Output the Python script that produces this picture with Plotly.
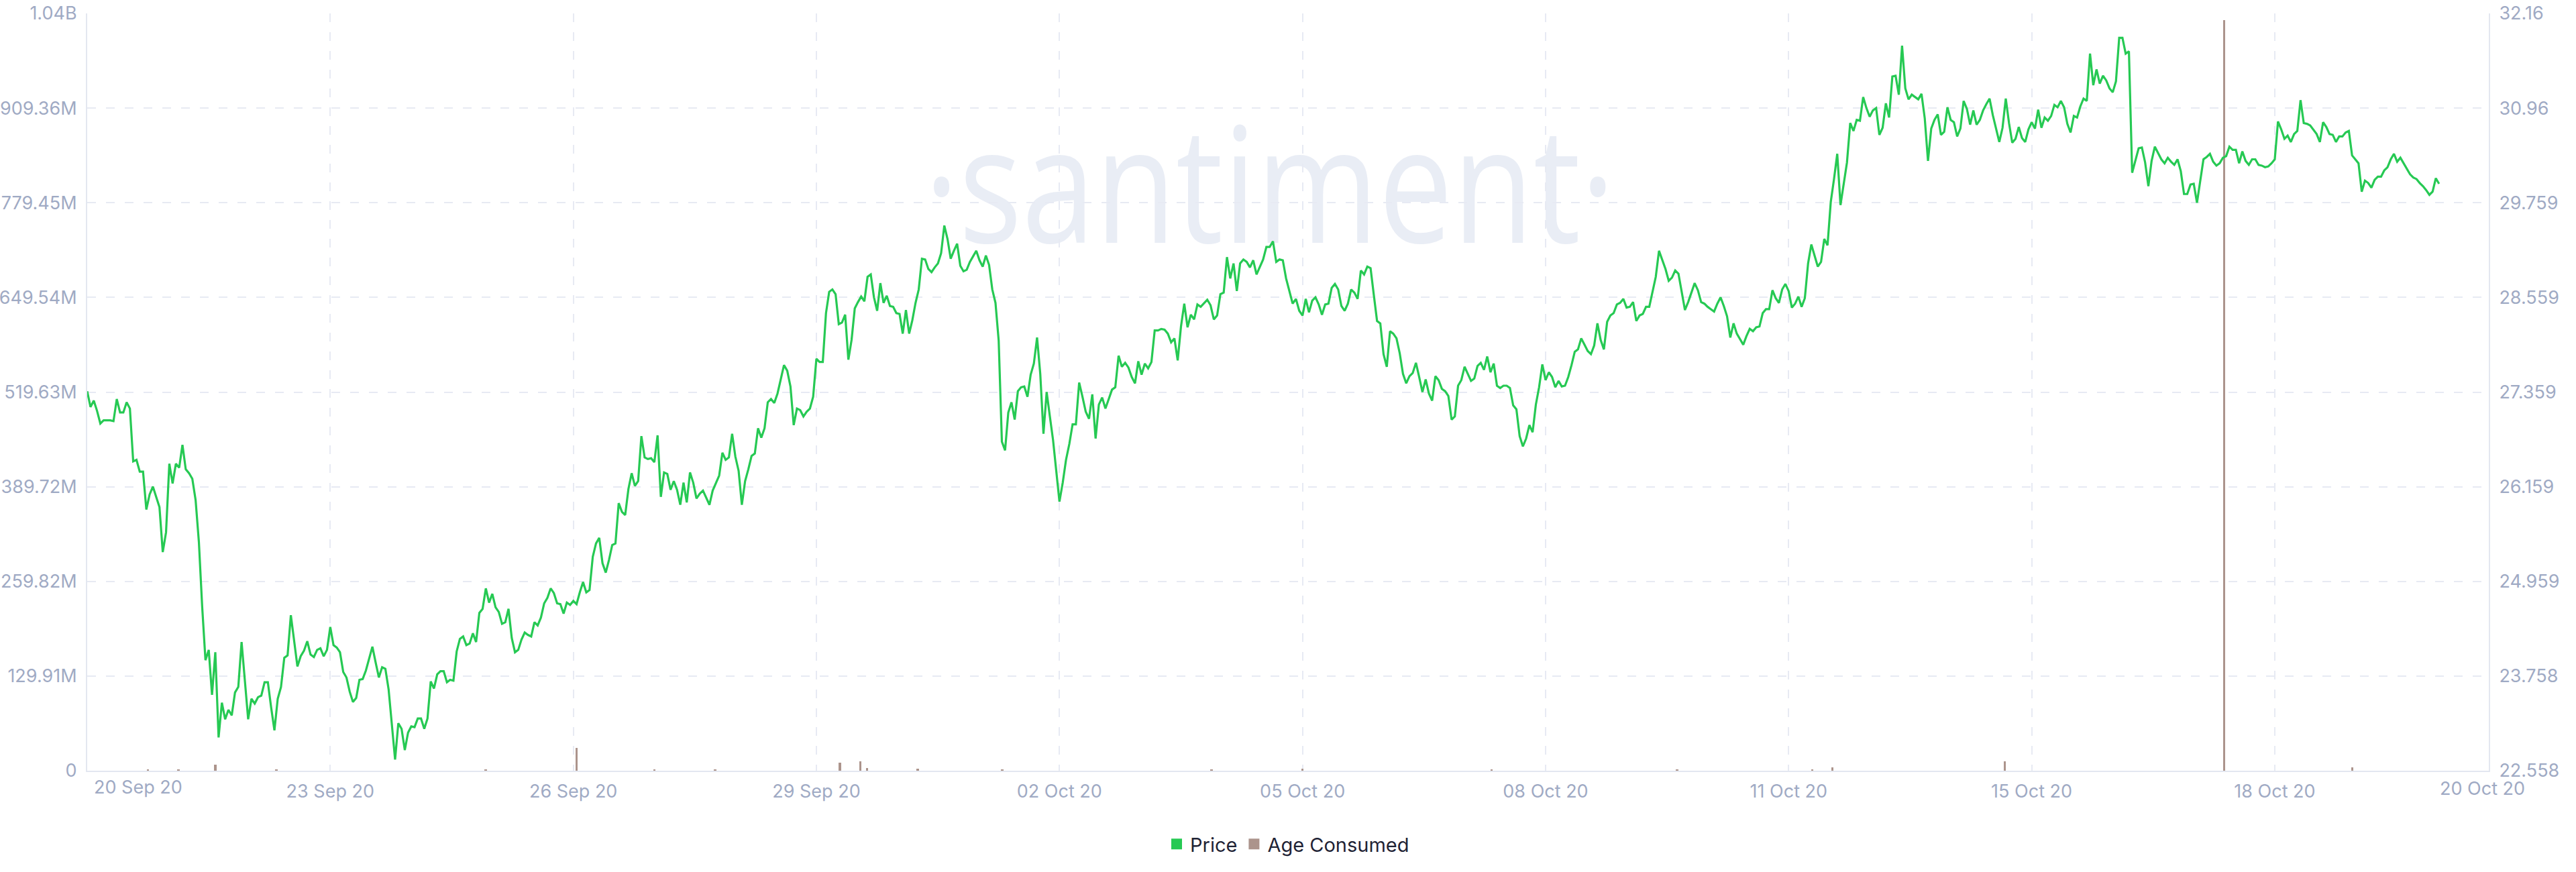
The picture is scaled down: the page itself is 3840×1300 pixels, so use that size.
import pandas as pd
import plotly.graph_objects as go

# Price (right axis), one list per span between the x gridlines.
# The feed has no data for 14 Oct, which the chart skips (index based x axis).
BLOCK_STARTS = ["2020-09-20 00:00", "2020-09-23 00:00", "2020-09-26 00:00", "2020-09-29 00:00",
                "2020-10-02 00:00", "2020-10-05 00:00", "2020-10-08 00:00", "2020-10-11 00:00",
                "2020-10-15 00:00", "2020-10-18 00:00"]
BLOCK_ENDS = ["2020-09-23 00:00", "2020-09-26 00:00", "2020-09-29 00:00", "2020-10-02 00:00",
              "2020-10-05 00:00", "2020-10-08 00:00", "2020-10-11 00:00", "2020-10-14 00:00",
              "2020-10-18 00:00", "2020-10-20 00:40"]

PRICE_BLOCKS = [
    [27.37, 27.17, 27.25, 27.12, 26.96, 27.00, 27.00, 27.00, 26.99, 27.27, 27.10, 27.10, 27.23, 27.15,
     26.48, 26.50, 26.35, 26.35, 25.87, 26.06, 26.16, 26.04, 25.90, 25.33, 25.58, 26.45, 26.20, 26.45,
     26.40, 26.69, 26.38, 26.33, 26.26, 25.99, 25.46, 24.64, 23.96, 24.09, 23.52, 24.06, 22.98, 23.42,
     23.21, 23.33, 23.26, 23.55, 23.62, 24.19, 23.70, 23.21, 23.47, 23.41, 23.49, 23.51, 23.68, 23.68,
     23.36, 23.07, 23.47, 23.62, 23.99, 24.02, 24.53, 24.19, 23.88, 24.01, 24.08, 24.20, 24.03, 24.00,
     24.09, 24.11, 24.01, 24.09],
    [24.38, 24.15, 24.12, 24.06, 23.81, 23.74, 23.56, 23.43, 23.48, 23.71, 23.72, 23.83, 23.99, 24.13,
     23.93, 23.74, 23.87, 23.85, 23.59, 23.13, 22.70, 23.16, 23.09, 22.82, 23.04, 23.12, 23.11, 23.22,
     23.22, 23.09, 23.22, 23.69, 23.60, 23.78, 23.82, 23.82, 23.68, 23.71, 23.70, 24.07, 24.23, 24.26,
     24.15, 24.17, 24.30, 24.19, 24.56, 24.61, 24.87, 24.69, 24.80, 24.63, 24.57, 24.42, 24.44, 24.61,
     24.24, 24.06, 24.09, 24.22, 24.31, 24.28, 24.26, 24.44, 24.40, 24.50, 24.68, 24.75, 24.87, 24.81,
     24.68, 24.67, 24.55, 24.69, 24.66],
    [24.71, 24.67, 24.82, 24.95, 24.82, 24.85, 25.27, 25.44, 25.51, 25.19, 25.07, 25.23, 25.42, 25.44,
     25.95, 25.84, 25.80, 26.13, 26.33, 26.17, 26.23, 26.80, 26.53, 26.51, 26.52, 26.47, 26.81, 26.03,
     26.34, 26.32, 26.12, 26.23, 26.12, 25.93, 26.21, 25.96, 26.34, 26.21, 26.01, 26.07, 26.11, 26.02,
     25.93, 26.11, 26.20, 26.30, 26.59, 26.50, 26.53, 26.83, 26.54, 26.36, 25.93, 26.23, 26.38, 26.55,
     26.58, 26.90, 26.78, 26.90, 27.23, 27.27, 27.22, 27.34, 27.52, 27.70, 27.63, 27.43, 26.94, 27.15,
     27.13, 27.05, 27.11, 27.15, 27.30],
    [27.78, 27.74, 27.74, 28.36, 28.63, 28.66, 28.60, 28.22, 28.24, 28.34, 27.77, 28.02, 28.42, 28.50,
     28.57, 28.51, 28.82, 28.85, 28.56, 28.39, 28.74, 28.49, 28.58, 28.45, 28.44, 28.36, 28.35, 28.10,
     28.40, 28.10, 28.27, 28.49, 28.66, 29.05, 29.04, 28.92, 28.88, 28.94, 28.99, 29.12, 29.47, 29.30,
     29.05, 29.15, 29.24, 28.96, 28.89, 28.91, 29.01, 29.08, 29.15, 29.03, 28.95, 29.09, 28.97, 28.66,
     28.49, 28.01, 26.73, 26.62, 27.10, 27.23, 27.01, 27.37, 27.42, 27.43, 27.30, 27.58, 27.72, 28.05,
     27.59, 26.83, 27.36, 27.05, 26.75, 26.36],
    [25.97, 26.21, 26.50, 26.70, 26.95, 26.95, 27.48, 27.30, 27.11, 27.02, 27.33, 26.77, 27.20, 27.29,
     27.15, 27.27, 27.39, 27.42, 27.82, 27.68, 27.73, 27.67, 27.55, 27.47, 27.75, 27.58, 27.72, 27.66,
     27.74, 28.14, 28.14, 28.16, 28.15, 28.10, 27.99, 28.04, 27.76, 28.19, 28.48, 28.18, 28.34, 28.28,
     28.47, 28.44, 28.49, 28.53, 28.46, 28.28, 28.33, 28.60, 28.62, 29.07, 28.80, 28.99, 28.64, 28.99,
     29.04, 29.01, 28.94, 29.03, 28.85, 28.94, 29.04, 29.20, 29.20, 29.27, 29.01, 29.04, 29.03, 28.80,
     28.65, 28.48, 28.54, 28.39],
    [28.33, 28.54, 28.37, 28.52, 28.56, 28.47, 28.34, 28.47, 28.48, 28.68, 28.73, 28.66, 28.45, 28.39,
     28.48, 28.66, 28.62, 28.54, 28.90, 28.85, 28.95, 28.93, 28.59, 28.26, 28.23, 27.84, 27.68, 28.13,
     28.10, 28.04, 27.85, 27.59, 27.47, 27.56, 27.60, 27.73, 27.55, 27.36, 27.52, 27.34, 27.25, 27.56,
     27.51, 27.40, 27.37, 27.31, 27.01, 27.05, 27.44, 27.51, 27.68, 27.59, 27.50, 27.53, 27.69, 27.73,
     27.64, 27.81, 27.61, 27.72, 27.44, 27.41, 27.44, 27.44, 27.41, 27.19, 27.14, 26.80, 26.67, 26.77,
     26.94, 26.85, 27.20, 27.42, 27.71],
    [27.51, 27.61, 27.55, 27.42, 27.50, 27.43, 27.44, 27.55, 27.70, 27.87, 27.90, 28.04, 27.96, 27.88,
     27.84, 27.95, 28.23, 28.02, 27.90, 28.25, 28.33, 28.36, 28.47, 28.49, 28.54, 28.43, 28.44, 28.50,
     28.26, 28.33, 28.35, 28.44, 28.44, 28.62, 28.82, 29.15, 29.04, 28.92, 28.77, 28.81, 28.90, 28.86,
     28.63, 28.40, 28.50, 28.62, 28.74, 28.65, 28.50, 28.48, 28.44, 28.41, 28.38, 28.48, 28.56, 28.45,
     28.32, 28.05, 28.23, 28.10, 28.03, 27.96, 28.07, 28.16, 28.13, 28.18, 28.19, 28.36, 28.41, 28.41,
     28.65, 28.55, 28.49, 28.66, 28.73],
    [28.64, 28.43, 28.48, 28.57, 28.44, 28.55, 28.99, 29.23, 29.10, 28.95, 29.01, 29.30, 29.22, 29.77,
     30.06, 30.38, 29.73, 29.98, 30.27, 30.77, 30.67, 30.81, 30.80, 31.10, 30.96, 30.85, 30.93, 30.96,
     30.62, 30.71, 31.02, 30.84, 31.36, 31.37, 31.13, 31.75, 31.21, 31.07, 31.13, 31.10, 31.07, 31.14,
     30.83, 30.29, 30.70, 30.81, 30.88, 30.62, 30.66, 30.97, 30.81, 30.78, 30.60, 30.70, 31.05, 30.95,
     30.75, 30.93, 30.75, 30.81, 30.93, 31.01, 31.08, 30.87, 30.71, 30.53, 30.71, 31.08, 30.77, 30.52,
     30.57, 30.72, 30.58, 30.53, 30.69],
    [30.78, 30.70, 30.94, 30.71, 30.84, 30.80, 30.86, 31.00, 30.97, 31.05, 30.97, 30.76, 30.65, 30.86,
     30.84, 30.98, 31.08, 31.05, 31.65, 31.25, 31.45, 31.27, 31.37, 31.31, 31.21, 31.16, 31.30, 31.85,
     31.85, 31.65, 31.68, 30.14, 30.29, 30.45, 30.46, 30.27, 29.97, 30.29, 30.47, 30.39, 30.31, 30.26,
     30.33, 30.28, 30.24, 30.31, 30.16, 29.87, 29.87, 29.99, 30.00, 29.76, 30.03, 30.31, 30.34, 30.38,
     30.28, 30.23, 30.26, 30.33, 30.35, 30.47, 30.43, 30.43, 30.26, 30.41, 30.29, 30.24, 30.31, 30.31,
     30.24, 30.23, 30.21, 30.22, 30.26],
    [30.31, 30.79, 30.69, 30.57, 30.61, 30.53, 30.63, 30.67, 31.06, 30.77, 30.76, 30.74, 30.69, 30.63,
     30.53, 30.78, 30.72, 30.63, 30.62, 30.53, 30.60, 30.60, 30.65, 30.67, 30.36, 30.31, 30.26, 29.90,
     30.04, 30.01, 29.95, 30.05, 30.09, 30.09, 30.17, 30.21, 30.31, 30.38, 30.28, 30.33, 30.26, 30.18,
     30.12, 30.08, 30.06, 30.01, 29.97, 29.92, 29.86, 29.90, 30.07, 30.00],
]

# Age Consumed (left axis), only the hours with a visible bar
AGE_TIMES = ["2020-09-20 18:00", "2020-09-21 03:00", "2020-09-21 14:00", "2020-09-22 08:00",
             "2020-09-24 22:00", "2020-09-26 01:00", "2020-09-27 00:00", "2020-09-27 18:00",
             "2020-09-29 07:00", "2020-09-29 13:00", "2020-09-29 15:00", "2020-09-30 06:00",
             "2020-10-01 07:00", "2020-10-03 21:00", "2020-10-05 00:00", "2020-10-07 08:00",
             "2020-10-09 15:00", "2020-10-11 07:00", "2020-10-11 13:00", "2020-10-13 16:00",
             "2020-10-17 09:00", "2020-10-18 23:00"]
AGE_VALUES = [1.0e6, 1.0e6, 8.0e6, 2.0e6, 1.8e6, 31e6, 2.0e6, 2.0e6, 11e6, 13e6, 4.0e6, 3.0e6,
              2.0e6, 2.0e6, 3.0e6, 2.0e6, 2.0e6, 2.0e6, 5.0e6, 13e6, 1030e6, 5.0e6]

LEFT_TICKS = [0, 129.91e6, 259.82e6, 389.72e6, 519.63e6, 649.54e6, 779.45e6, 909.36e6, 1039.27e6]
LEFT_LABELS = ["0", "129.91M", "259.82M", "389.72M", "519.63M", "649.54M", "779.45M", "909.36M", "1.04B"]
RIGHT_TICKS = [22.558, 23.758, 24.959, 26.159, 27.359, 28.559, 29.759, 30.96, 32.16]
RIGHT_LABELS = ["22.558", "23.758", "24.959", "26.159", "27.359", "28.559", "29.759", "30.96", "32.16"]
X_TICKS = ["2020-09-23", "2020-09-26", "2020-09-29", "2020-10-02", "2020-10-05",
           "2020-10-08", "2020-10-11", "2020-10-15", "2020-10-18"]
X_LABELS = ["23 Sep 20", "26 Sep 20", "29 Sep 20", "02 Oct 20", "05 Oct 20",
            "08 Oct 20", "11 Oct 20", "15 Oct 20", "18 Oct 20"]

GREEN = "#26c953"
BROWN = "#ac948c"
TICK_COLOR = "#9faac4"
GRID_COLOR = "#e7eaf3"
LINE_COLOR = "#e3e7f0"
FONT = "Inter, sans-serif"

# spread each block's points evenly between its gridlines
times, prices = [], []
for i, (start, end, block) in enumerate(zip(BLOCK_STARTS, BLOCK_ENDS, PRICE_BLOCKS)):
    last = i == len(PRICE_BLOCKS) - 1
    stamps = pd.date_range(start, end, periods=len(block) if last else len(block) + 1)
    times.extend(stamps[:len(block)])
    prices.extend(block)

fig = go.Figure()

fig.add_trace(go.Bar(
    x=pd.to_datetime(AGE_TIMES), y=AGE_VALUES, width=2.5e6,
    marker=dict(color=BROWN, line=dict(width=0)), showlegend=False, yaxis="y",
))
fig.add_trace(go.Scatter(
    x=times, y=prices, mode="lines", line=dict(color=GREEN, width=3.2),
    showlegend=False, yaxis="y2",
))

# legend entries drawn as squares
for name, color in [("Price", GREEN), ("Age Consumed", BROWN)]:
    fig.add_trace(go.Scatter(
        x=[None], y=[None], mode="markers", name=name,
        marker=dict(symbol="square", size=18, color=color),
    ))

# watermark, under the gridlines
fig.add_shape(
    type="rect", xref="paper", yref="paper", x0=0.4005, x1=0.5843, y0=0.691, y1=0.839,
    line=dict(width=0), fillcolor="rgba(0,0,0,0)", layer="below",
    label=dict(text="\u00b7santiment\u00b7", textposition="middle center",
               font=dict(family="Open Sans", size=241, color="#e9edf5")),
)

fig.add_annotation(text="20 Sep 20", xref="paper", yref="paper", x=0, y=0, xshift=8, yshift=-6,
                   xanchor="left", yanchor="top", showarrow=False,
                   font=dict(family=FONT, size=27, color=TICK_COLOR))
fig.add_annotation(text="20 Oct 20", xref="paper", yref="paper", x=1, y=0, xshift=-10, yshift=-8,
                   xanchor="center", yanchor="top", showarrow=False,
                   font=dict(family=FONT, size=27, color=TICK_COLOR))

grid = dict(showgrid=True, gridcolor=GRID_COLOR, gridwidth=2, griddash="13px,15px")

fig.update_layout(
    width=3840, height=1300,
    margin=dict(l=130, r=130, t=20, b=151, autoexpand=False),
    paper_bgcolor="white", plot_bgcolor="white",
    font=dict(family=FONT, size=27, color=TICK_COLOR),
    bargap=0,
    xaxis=dict(
        type="date", range=["2020-09-20 00:00", "2020-10-20 15:24"],
        rangebreaks=[dict(bounds=["2020-10-14", "2020-10-15"])],
        tickvals=X_TICKS, ticktext=X_LABELS, ticks="", ticklabelstandoff=6,
        showline=True, linecolor=LINE_COLOR, linewidth=2, zeroline=False, **grid,
    ),
    yaxis=dict(
        range=[0, 1039.27e6], tickvals=LEFT_TICKS, ticktext=LEFT_LABELS,
        ticks="", ticklabelstandoff=8, showline=True, linecolor=LINE_COLOR, linewidth=2,
        zeroline=False, **grid,
    ),
    yaxis2=dict(
        range=[22.558, 32.16], tickvals=RIGHT_TICKS, ticktext=RIGHT_LABELS,
        overlaying="y", side="right", ticks="", ticklabelstandoff=8,
        showline=True, linecolor=LINE_COLOR, linewidth=2, showgrid=False, zeroline=False,
    ),
    legend=dict(orientation="h", x=0.5, xanchor="center", y=0.032, yanchor="middle",
                xref="paper", yref="container",
                font=dict(family=FONT, size=29, color="#1f2335"), itemclick=False),
)

# the watermark is a narrow face; squeeze the label text to its width
POST = """
document.body.style.margin = '0';
document.querySelectorAll('text').forEach(function (t) {
  if (t.textContent.indexOf('santiment') >= 0) {
    t.setAttribute('textLength', '1030');
    t.setAttribute('lengthAdjust', 'spacingAndGlyphs');
  }
});
"""

fig.write_html("out.html", config={"displayModeBar": False}, post_script=POST)
